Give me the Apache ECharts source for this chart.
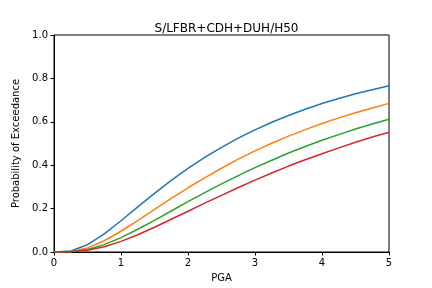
<!DOCTYPE html>
<html>
<head>
<meta charset="utf-8">
<script src="https://cdn.jsdelivr.net/npm/echarts@6/dist/echarts.min.js"></script>
<style>html,body{margin:0;padding:0;background:#fff}#c{width:432px;height:288px}</style>
</head>
<body>
<div id="c"></div>
<script>
const pga = [0,0.25,0.5,0.75,1,1.25,1.5,1.75,2,2.25,2.5,2.75,3,3.25,3.5,3.75,4,4.25,4.5,4.75,5];
const blue = [0,0.0046,0.0335,0.0835,0.144,0.208,0.270,0.330,0.385,0.436,0.482,0.525,0.563,0.598,0.629,0.658,0.684,0.707,0.729,0.748,0.766];
const orange = [0,0.0022,0.0189,0.0519,0.0956,0.145,0.196,0.247,0.296,0.342,0.386,0.428,0.466,0.501,0.534,0.564,0.592,0.618,0.642,0.664,0.685];
const green = [0,0.0012,0.0115,0.0341,0.0664,0.105,0.146,0.189,0.232,0.274,0.314,0.352,0.389,0.423,0.456,0.486,0.515,0.541,0.567,0.590,0.612];
const red = [0,0.0007,0.0076,0.024,0.0488,0.0794,0.114,0.151,0.188,0.225,0.261,0.297,0.331,0.364,0.396,0.425,0.453,0.480,0.506,0.530,0.552];
const colors = ['#1f77b4','#ff7f0e','#2ca02c','#d62728'];
const seriesData = [blue, orange, green, red];

const chart = echarts.init(document.getElementById('c'), null, {renderer:'canvas'});
const font = 'DejaVu Sans';
chart.setOption({
  animation:false,
  title:{text:'S/LFBR+CDH+DUH/H50', left:221.5, top:18, textAlign:'center',
    textStyle:{fontFamily:font, fontSize:12, fontWeight:'normal', color:'#000'}},
  grid:{left:54, right:43, top:35, bottom:36, show:true, borderColor:'#000', borderWidth:1, backgroundColor:'transparent'},
  xAxis:{type:'value', min:0, max:5, interval:1, name:'PGA', nameLocation:'middle', nameGap:21,
    nameTextStyle:{fontFamily:font, fontSize:10, color:'#000'},
    axisLine:{show:true, lineStyle:{color:'#000', width:1}},
    axisTick:{show:true, length:3.5, lineStyle:{color:'#000'}},
    axisLabel:{fontFamily:font, fontSize:10, color:'#000', margin:6, formatter:v=>String(v)},
    splitLine:{show:false}},
  yAxis:{type:'value', min:0, max:1, interval:0.2, name:'Probability of Exceedance', nameLocation:'middle', nameGap:33,
    nameTextStyle:{fontFamily:font, fontSize:10, color:'#000'},
    axisLine:{show:true, lineStyle:{color:'#000', width:1}},
    axisTick:{show:true, length:3.5, lineStyle:{color:'#000'}},
    axisLabel:{fontFamily:font, fontSize:10, color:'#000', margin:6, formatter:v=>v.toFixed(1)},
    splitLine:{show:false}},
  series: seriesData.map((d,i)=>({
    type:'line', data:pga.map((x,j)=>[x,d[j]]), showSymbol:false, smooth:false,
    lineStyle:{color:colors[i], width:1.5}, itemStyle:{color:colors[i]}, z:2+i
  }))
});
</script>
</body>
</html>
